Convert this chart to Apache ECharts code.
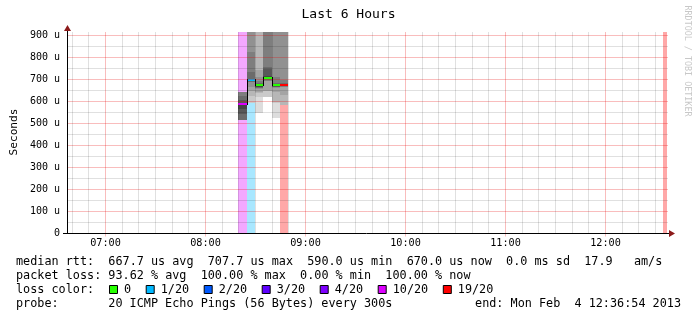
<!DOCTYPE html>
<html><head><meta charset="utf-8">
<script src="https://cdn.jsdelivr.net/npm/echarts@6/dist/echarts.min.js"></script>
<style>html,body{margin:0;padding:0;background:#fff}#c{width:697px;height:321px}</style>
</head><body><div id="c"></div>
<script>
// ---------------- data ----------------
const titleText = 'Last 6 Hours';
const axisStart = '06:36:54';
const axisEnd = '12:36:54';
const hourTicks = ['07:00', '08:00', '09:00', '10:00', '11:00', '12:00'];
const yTickValues = [0, 100, 200, 300, 400, 500, 600, 700, 800, 900];   // microseconds
const yMinorValues = [50, 150, 250, 350, 450, 550, 650, 750, 850];
const yMaxUs = 916;
const slotStart = ['08:20', '08:25', '08:30', '08:35', '08:40', '08:45', '12:35'];
const slotMinutes = 5;
const lossCount = [10, 1, 0, 0, 0, 19, 20];
const medianUs = [590, 696, 677, 708, 677, 673, null];
// 20 sorted ping rtts (us) per 5-minute slot, null = lost
const pings0820 = [null, null, null, null, null, 516, 518, 545, 568, 588, 592, 594, 605, 627, 642, null, null, null, null, null];
const pings0825 = [590, 595, 625, 650, 664, 689, 690, 691, 692, 694, 698, 699, 701, 732, 823, 935, 980, 1040, 1150, null];
const pings0830 = [550, 620, 640, 641, 659, 661, 663, 665, 668, 675, 679, 680, 681, 684, 692, 712, 745, 930, 1000, 1100];
const pings0835 = [619, 620, 648, 650, 693, 695, 697, 702, 704, 706, 712, 718, 750, 756, 925, 960, 1000, 1050, 1100, 1200];
const pings0840 = [523, 595, 600, 641, 662, 664, 666, 668, 670, 675, 679, 680, 681, 683, 711, 925, 960, 1000, 1050, 1100];
const pings0845 = [null, 582, 583, 628, 667, 668, 669, 670, 671, 672, 675, 677, 679, 682, 696, 925, 960, 1000, 1050, 1100];
const pings1235 = [null, null, null, null, null, null, null, null, null, null, null, null, null, null, null, null, null, null, null, null];
const lossLevels = [0, 1, 2, 3, 4, 10, 19];
const lossLabels = ['0', '1/20', '2/20', '3/20', '4/20', '10/20', '19/20'];
const rttStatNames = ['avg', 'max', 'min', 'now'];
const rttStatValues = [667.7, 707.7, 590.0, 670.0];
const rttSdMs = 0.0;
const rttAmPerS = 17.9;
const lossStatValues = [93.62, 100.00, 0.00, 100.00];
const probeText = '20 ICMP Echo Pings (56 Bytes) every 300s';
const endText = 'end: Mon Feb  4 12:36:54 2013';
const watermark = 'RRDTOOL / TOBI OETIKER';

// ---------------- styles ----------------
const MONO = '"DejaVu Sans Mono", monospace';
const lossColors = ['#26ff00', '#00b8ff', '#0059ff', '#5e00ff', '#7e00ff', '#dd00ff', '#ff0000'];
const majorGrid = 'rgba(230,0,0,0.26)';
const minorGrid = 'rgba(0,0,0,0.12)';

// ---------------- helpers ----------------
const toMin = s => { const p = s.split(':').map(Number); return p[0] * 60 + p[1] + (p[2] || 0) / 60; };
const xMin = toMin(axisStart), xMax = toMin(axisEnd);
const pingSets = [pings0820, pings0825, pings0830, pings0835, pings0840, pings0845, pings1235];
const slots = slotStart.map((s, i) => { const a = toMin(s); return [a, Math.min(a + slotMinutes, xMax), i]; });
const levelIndex = loss => { let k = 0; lossLevels.forEach((l, j) => { if (loss >= l) k = j; }); return k; };
const hexA = (hex, a) => { const n = parseInt(hex.slice(1), 16); return `rgba(${n >> 16},${(n >> 8) & 255},${n & 255},${a})`; };
const shade = ibot => { const g = Math.floor(190 / 10 * (10 - ibot)) + 50; return `rgb(${g},${g},${g})`; };
const hourVals = hourTicks.map(toMin);
const vMinor = []; for (let m = Math.ceil(xMin / 10) * 10; m <= xMax; m += 10) vMinor.push(m);
const pad2 = n => String(n).padStart(2, '0');
const fmtTime = v => pad2(Math.floor(Math.round(v) / 60)) + ':' + pad2(Math.round(v) % 60);

function renderSlot(params, api) {
  const i = api.value(2);
  const a = api.value(0), b = api.value(1);
  const x0 = Math.floor(api.coord([a, 0])[0]);
  const x1 = Math.floor(api.coord([b, 0])[0]);
  const yOf = v => Math.round(api.coord([a, Math.min(v, yMaxUs)])[1]);
  const kids = [];
  const loss = lossCount[i];
  const lc = lossColors[levelIndex(loss)];
  if (loss > 0) {
    kids.push({ type: 'rect', shape: { x: x0, y: yOf(yMaxUs), width: x1 - x0, height: yOf(0) - yOf(yMaxUs) }, style: { fill: hexA(lc, 0.34) } });
  }
  const p = pingSets[i];
  for (let ibot = 1; ibot <= 10; ibot++) {
    const lo = p[ibot - 1], hi = p[20 - ibot];
    if (lo == null || hi == null) continue;
    const yt = yOf(hi), yb = yOf(lo);
    if (yb - yt <= 0) continue;
    kids.push({ type: 'rect', shape: { x: x0, y: yt, width: x1 - x0, height: yb - yt }, style: { fill: shade(ibot) } });
  }
  const m = medianUs[i];
  if (m != null) {
    const ym = yOf(m);
    kids.push({ type: 'rect', shape: { x: x0, y: ym - 1, width: x1 - x0, height: 2 }, style: { fill: lc } });
    if (i > 0 && medianUs[i - 1] != null && Math.abs(slots[i - 1][1] - a) < 1e-6) {
      const yp = yOf(medianUs[i - 1]);
      if (yp !== ym) {
        kids.push({ type: 'line', shape: { x1: x0 + 0.5, y1: Math.min(yp, ym) - 1, x2: x0 + 0.5, y2: Math.max(yp, ym) + 1 }, style: { stroke: '#000', lineWidth: 1 } });
      }
    }
  }
  return { type: 'group', children: kids };
}

function renderHGrid(params, api) {
  const v = api.value(0);
  const cs = params.coordSys;
  const y = Math.floor(api.coord([xMin, v])[1]) + 0.5;
  return { type: 'line', shape: { x1: cs.x, y1: y, x2: cs.x + cs.width + 1, y2: y },
    style: { stroke: v % 100 === 0 ? majorGrid : minorGrid, lineWidth: 1 } };
}
function renderVGrid(params, api) {
  const v = api.value(0);
  const cs = params.coordSys;
  const x = Math.floor(api.coord([v, 0])[0]) + 0.5;
  const major = Math.abs(v % 60) < 1e-6;
  return { type: 'line', shape: { x1: x, y1: cs.y, x2: x, y2: cs.y + cs.height + (major ? 3 : 0) },
    style: { stroke: major ? majorGrid : minorGrid, lineWidth: 1 } };
}

// ---------------- legend texts ----------------
const CW = 7.1;
const line1 = 'median rtt:  ' + rttStatValues.map((v, k) => v.toFixed(1) + ' us ' + rttStatNames[k]).join('  ') +
  '  ' + rttSdMs.toFixed(1) + ' ms sd  ' + rttAmPerS.toFixed(1) + '   am/s';
const line2 = 'packet loss: ' + lossStatValues.map((v, k) => v.toFixed(2) + ' % ' + rttStatNames[k]).join('  ');
const textEl = (text, x, y, size, extra) => Object.assign({ type: 'text', x: x, y: y, z: 100,
  style: Object.assign({ text: text, font: size + 'px ' + MONO, fill: '#000', align: 'left', verticalAlign: 'middle' }, extra || {}) });

const graphics = [
  textEl(titleText, 348.5, 15, 13, { align: 'center' }),
  textEl(line1, 16, 262, 11.8),
  textEl(line2, 16, 276, 11.8),
  textEl('loss color:', 16, 290, 11.8),
  textEl('probe:', 16, 304, 11.8),
  textEl(probeText, 16 + 13 * CW, 304, 11.8),
  textEl(endText, 681, 304, 11.8, { align: 'right' }),
  { type: 'text', x: 14, y: 132, rotation: Math.PI / 2, z: 100,
    style: { text: 'Seconds', font: '11.2px ' + MONO, fill: '#000', align: 'center', verticalAlign: 'middle' } },
  { type: 'text', x: 687, y: 61, rotation: -Math.PI / 2, z: 100,
    style: { text: watermark, font: '8.4px ' + MONO, fill: '#c8c8c8', align: 'center', verticalAlign: 'middle' } },
  // axis lines, arrows and extensions
  { type: 'line', z: 100, shape: { x1: 63, y1: 233.5, x2: 670, y2: 233.5 }, style: { stroke: '#000', lineWidth: 1 } },
  { type: 'line', z: 100, shape: { x1: 67.5, y1: 233, x2: 67.5, y2: 29 }, style: { stroke: '#000', lineWidth: 1 } },
  { type: 'polygon', z: 101, shape: { points: [[669, 230], [675, 233.5], [669, 237]] }, style: { fill: '#8c1a1a' } },
  { type: 'polygon', z: 101, shape: { points: [[64, 31], [67.5, 25], [71, 31]] }, style: { fill: '#8c1a1a' } }
];
let bx = 109;
lossLabels.forEach((lab, k) => {
  graphics.push({ type: 'rect', z: 100, shape: { x: bx + 0.5, y: 285.5, width: 8, height: 8 },
    style: { fill: lossColors[k], stroke: '#000', lineWidth: 1 } });
  const lx = bx + 15;
  graphics.push(textEl(lab, lx, 290, 11.8));
  bx = lx + lab.length * CW + 14.6;
});

// ---------------- chart ----------------
const chart = echarts.init(document.getElementById('c'), null, { renderer: 'canvas', width: 697, height: 321 });
chart.setOption({
  animation: false,
  backgroundColor: '#ffffff',
  grid: { left: 67, top: 32, width: 600, height: 201.5, containLabel: false },
  xAxis: {
    type: 'value', min: xMin, max: xMax, z: 10,
    axisLine: { show: false },
    axisTick: { show: false },
    axisLabel: { customValues: hourVals, formatter: fmtTime, margin: 5, fontFamily: MONO, fontSize: 10.2, color: '#000' },
    splitLine: { show: false }
  },
  yAxis: {
    type: 'value', min: 0, max: yMaxUs, interval: 100, z: 10,
    axisLine: { show: false },
    axisTick: { show: false },
    axisLabel: { formatter: v => (v % 100 !== 0 ? '' : (v === 0 ? '0' : v + ' u')), margin: 7, fontFamily: MONO, fontSize: 10, color: '#000' },
    splitLine: { show: false }
  },
  series: [
    { type: 'custom', silent: true, clip: true, z: 2, renderItem: renderSlot, data: slots },
    { type: 'custom', silent: true, clip: false, z: 3, renderItem: renderHGrid, data: yMinorValues.concat(yTickValues.slice(1)).map(v => [v]) },
    { type: 'custom', silent: true, clip: false, z: 3, renderItem: renderVGrid, data: vMinor.map(v => [v]) }
  ],
  graphic: graphics
});
</script></body></html>
